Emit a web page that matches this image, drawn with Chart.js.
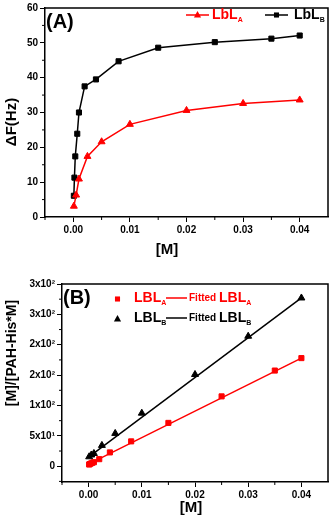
<!DOCTYPE html>
<html><head><meta charset="utf-8">
<script src="https://cdn.jsdelivr.net/npm/chart.js@4/dist/chart.umd.min.js"></script>
<style>
html,body{margin:0;padding:0;background:#fff;width:333px;height:521px;overflow:hidden}
.w{position:absolute;left:0;width:333px}
#wa{top:0;height:260px}
#wb{top:260px;height:261px}
</style></head><body>
<div class="w" id="wa"><canvas id="ca"></canvas></div>
<div class="w" id="wb"><canvas id="cb"></canvas></div>
<script>
// ---------- Panel A data ----------
const xA_LbLA = [0.0001, 0.0005, 0.001, 0.0025, 0.005, 0.01, 0.02, 0.03, 0.04];
const yA_LbLA = [3.1, 6.3, 10.9, 17.4, 21.6, 26.6, 30.6, 32.6, 33.6];
const xA_LbLB = [0.0001, 0.0002, 0.00035, 0.0007, 0.001, 0.002, 0.004, 0.008, 0.015, 0.025, 0.035, 0.04];
const yA_LbLB = [6.1, 11.3, 17.4, 23.9, 30.0, 37.5, 39.5, 44.7, 48.6, 50.2, 51.2, 52.1];
const xTicks = [0, 0.01, 0.02, 0.03, 0.04];
const xMinor = [-0.005, 0.005, 0.015, 0.025, 0.035];
const yTicksA = [0, 10, 20, 30, 40, 50, 60];
const yMinorA = [5, 15, 25, 35, 45, 55];

// ---------- Panel B data ----------
const xB_LBLA = [0.0001, 0.0002, 0.0004, 0.0007, 0.001, 0.002, 0.004, 0.008, 0.015, 0.025, 0.035, 0.04];
const yB_LBLA = [2.8, 3.5, 4.4, 5.6, 6.6, 11.6, 22.7, 40.9, 71.3, 115, 157.5, 178];
const xB_LBLB = [0.0001, 0.0005, 0.001, 0.0025, 0.005, 0.01, 0.02, 0.03, 0.04];
const yB_LBLB = [15.5, 18.5, 21, 34.3, 54, 87.3, 151, 214, 277];
const xFit = [0, 0.04];
const yFitA = [3.5, 178];
const yFitB = [15, 277];
const yTicksB = [0, 50, 100, 150, 200, 250, 300];
const yTickLabelsB = ['0', '5x10\u00B9', '1x10\u00B2', '2x10\u00B2', '2x10\u00B2', '3x10\u00B2', '3x10\u00B2'];
const yMinorB = [-25, 25, 75, 125, 175, 225, 275];

const FONT = '"Liberation Sans", Arial, sans-serif';
const RED = '#ff0000';
const BLACK = '#000000';

function pts(xs, ys) { return xs.map((x, i) => ({x: x, y: ys[i]})); }

function drawMarker(ctx, style, x, y, r, color) {
  ctx.save();
  ctx.fillStyle = color;
  ctx.beginPath();
  if (style === 'rect') { const s = r * Math.SQRT1_2; ctx.rect(x - s, y - s, 2 * s, 2 * s); }
  else { ctx.moveTo(x, y - r); ctx.lineTo(x + r * 0.9, y + r * 0.6); ctx.lineTo(x - r * 0.9, y + r * 0.6); ctx.closePath(); }
  ctx.fill();
  ctx.restore();
}

function drawSubText(ctx, parts, x, y) {
  let cx = x;
  for (const p of parts) {
    ctx.font = 'bold ' + p.size + 'px ' + FONT;
    ctx.fillText(p.t, cx, y + (p.dy || 0));
    cx += ctx.measureText(p.t).width;
  }
  return cx;
}

const decoPlugin = {
  id: 'deco',
  afterDraw(chart, args, o) {
    const ctx = chart.ctx, ca = chart.chartArea;
    const xs = chart.scales.x, ys = chart.scales.y;
    ctx.save();
    ctx.strokeStyle = BLACK; ctx.lineWidth = 1.5;
    ctx.beginPath();
    ctx.moveTo(ca.left, ca.top); ctx.lineTo(ca.right, ca.top); ctx.lineTo(ca.right, ca.bottom);
    ctx.stroke();
    ctx.lineWidth = 1;
    ctx.beginPath();
    for (const v of o.xMinor) { const p = xs.getPixelForValue(v); ctx.moveTo(p, ca.bottom); ctx.lineTo(p, ca.bottom + 3); }
    for (const v of o.yMinor) { const p = ys.getPixelForValue(v); ctx.moveTo(ca.left, p); ctx.lineTo(ca.left - 3, p); }
    ctx.stroke();
    ctx.fillStyle = BLACK; ctx.textBaseline = 'middle'; ctx.textAlign = 'left';
    ctx.font = 'bold 20px ' + FONT;
    ctx.fillText(o.label, o.labelX, o.labelY);
    ctx.textAlign = 'center';
    ctx.font = 'bold ' + o.xTitleSize + 'px ' + FONT;
    ctx.fillText(o.xTitle, o.xTitleX, o.xTitleY);
    ctx.save();
    ctx.translate(o.yTitleX, o.yTitleY); ctx.rotate(-Math.PI / 2);
    ctx.font = 'bold ' + o.yTitleSize + 'px ' + FONT;
    ctx.fillText(o.yTitle, 0, 0);
    ctx.restore();
    ctx.textAlign = 'left';
    if (o.legend) o.legend(ctx);
    ctx.restore();
  }
};

function axisCommon(min, max, ticks, labelFn, fitFn) {
  return {
    type: 'linear', min: min, max: max,
    afterBuildTicks: s => { s.ticks = ticks.map(v => ({value: v})); },
    afterFit: fitFn,
    ticks: {callback: labelFn, color: BLACK, font: {family: FONT, size: 10, weight: 'bold'}, padding: 2, maxRotation: 0, autoSkip: false},
    grid: {drawOnChartArea: false, drawTicks: true, tickLength: 5, color: BLACK, lineWidth: 1},
    border: {display: true, color: BLACK, width: 1.5}
  };
}

// ---------- Chart A ----------
new Chart(document.getElementById('ca'), {
  type: 'scatter',
  data: {datasets: [
    {label: 'LbLA', data: pts(xA_LbLA, yA_LbLA), showLine: true, borderColor: RED, backgroundColor: RED, borderWidth: 1.5, pointStyle: 'triangle', pointRadius: 4, pointBorderWidth: 1},
    {label: 'LbLB', data: pts(xA_LbLB, yA_LbLB), showLine: true, borderColor: BLACK, backgroundColor: BLACK, borderWidth: 1.5, pointStyle: 'rect', pointRadius: 3.6, pointBorderWidth: 1}
  ]},
  options: {
    responsive: true, maintainAspectRatio: false, animation: false, devicePixelRatio: 1,
    layout: {padding: {top: 7, right: 2, left: 0, bottom: 0}},
    plugins: {legend: {display: false}, tooltip: {enabled: false},
      deco: {
        xMinor: xMinor, yMinor: yMinorA, label: '(A)', labelX: 46, labelY: 22,
        xTitle: '[M]', xTitleX: 167, xTitleY: 250, xTitleSize: 15,
        yTitle: '\u0394F(Hz)', yTitleX: 12, yTitleY: 122, yTitleSize: 15,
        legend: ctx => {
          ctx.strokeStyle = RED; ctx.lineWidth = 1.5;
          ctx.beginPath(); ctx.moveTo(186, 15); ctx.lineTo(209, 15); ctx.stroke();
          drawMarker(ctx, 'triangle', 197.5, 15, 4, RED);
          ctx.fillStyle = RED; ctx.textBaseline = 'middle';
          drawSubText(ctx, [{t: 'LbL', size: 14}, {t: 'A', size: 7, dy: 5}], 212, 15);
          ctx.strokeStyle = BLACK;
          ctx.beginPath(); ctx.moveTo(265, 15); ctx.lineTo(288, 15); ctx.stroke();
          drawMarker(ctx, 'rect', 276.5, 15, 3.6, BLACK);
          ctx.fillStyle = BLACK;
          drawSubText(ctx, [{t: 'LbL', size: 14}, {t: 'B', size: 7, dy: 5}], 294, 15);
        }
      }
    },
    scales: {
      x: axisCommon(-0.005, 0.045, xTicks, v => v.toFixed(2), s => { s.height = 43; }),
      y: axisCommon(0, 60, yTicksA, v => String(v), s => { s.width = 45; })
    }
  },
  plugins: [decoPlugin]
});

// ---------- Chart B ----------
new Chart(document.getElementById('cb'), {
  type: 'scatter',
  data: {datasets: [
    {label: 'Fitted LBLA', data: pts(xFit, yFitA), showLine: true, borderColor: RED, borderWidth: 1.5, pointRadius: 0},
    {label: 'Fitted LBLB', data: pts(xFit, yFitB), showLine: true, borderColor: BLACK, borderWidth: 1.5, pointRadius: 0},
    {label: 'LBLA', data: pts(xB_LBLA, yB_LBLA), showLine: false, borderColor: RED, backgroundColor: RED, pointStyle: 'rect', pointRadius: 3.6, pointBorderWidth: 1},
    {label: 'LBLB', data: pts(xB_LBLB, yB_LBLB), showLine: false, borderColor: BLACK, backgroundColor: BLACK, pointStyle: 'triangle', pointRadius: 4, pointBorderWidth: 1}
  ]},
  options: {
    responsive: true, maintainAspectRatio: false, animation: false, devicePixelRatio: 1,
    layout: {padding: {top: 24, right: 3, left: 0, bottom: 0}},
    plugins: {legend: {display: false}, tooltip: {enabled: false},
      deco: {
        xMinor: xMinor, yMinor: yMinorB, label: '(B)', labelX: 63, labelY: 38,
        xTitle: '[M]', xTitleX: 191, xTitleY: 248, xTitleSize: 15,
        yTitle: '[M]/[PAH-His*M]', yTitleX: 12, yTitleY: 93, yTitleSize: 14,
        legend: ctx => {
          drawMarker(ctx, 'rect', 117.5, 39, 3.6, RED);
          ctx.fillStyle = RED; ctx.textBaseline = 'middle';
          drawSubText(ctx, [{t: 'LBL', size: 14}, {t: 'A', size: 7, dy: 5}], 134, 38);
          ctx.strokeStyle = RED; ctx.lineWidth = 1.5;
          ctx.beginPath(); ctx.moveTo(166, 38); ctx.lineTo(187, 38); ctx.stroke();
          drawSubText(ctx, [{t: 'Fitted ', size: 10}, {t: 'LBL', size: 14}, {t: 'A', size: 7, dy: 5}], 189, 38);
          drawMarker(ctx, 'triangle', 117.5, 59, 4, BLACK);
          ctx.fillStyle = BLACK;
          drawSubText(ctx, [{t: 'LBL', size: 14}, {t: 'B', size: 7, dy: 5}], 134, 58);
          ctx.strokeStyle = BLACK;
          ctx.beginPath(); ctx.moveTo(166, 58); ctx.lineTo(187, 58); ctx.stroke();
          drawSubText(ctx, [{t: 'Fitted ', size: 10}, {t: 'LBL', size: 14}, {t: 'B', size: 7, dy: 5}], 189, 58);
        }
      }
    },
    scales: {
      x: axisCommon(-0.005, 0.045, xTicks, v => v.toFixed(2), s => { s.height = 39; }),
      y: axisCommon(-26, 300, yTicksB, v => yTickLabelsB[yTicksB.indexOf(v)], s => { s.width = 62; })
    }
  },
  plugins: [decoPlugin]
});
</script>
</body></html>
